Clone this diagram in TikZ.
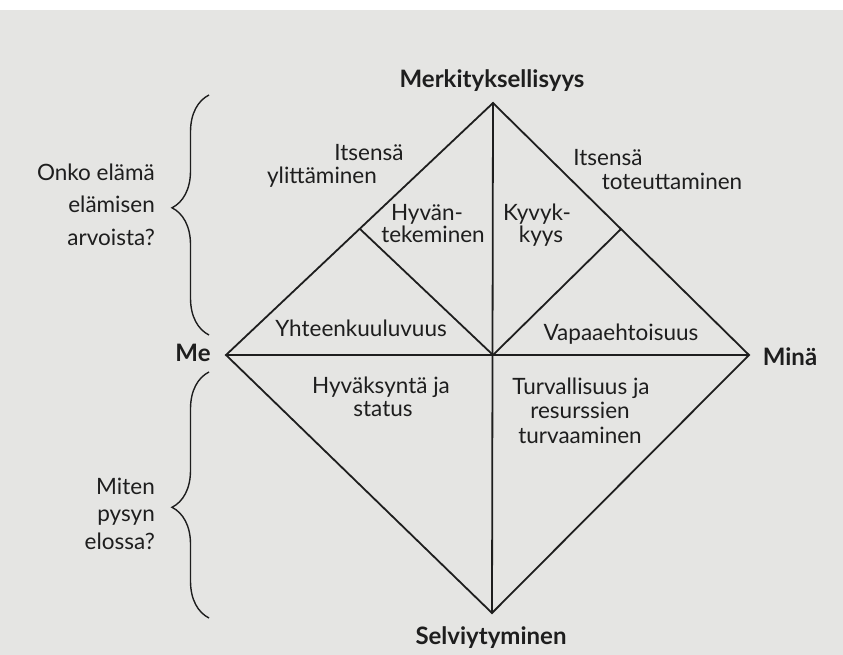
\documentclass[tikz,border=0pt]{standalone}
\usepackage{fontspec}
\setmainfont{Lato}
\usetikzlibrary{decorations.pathreplacing}
\definecolor{paper}{HTML}{E5E5E3}
\definecolor{ink}{HTML}{1E1E1E}
\begin{document}
\begin{tikzpicture}[x=1pt,y=-1pt,
  lab/.style={font=\fontsize{22.5}{24}\selectfont, text=ink, inner sep=0pt, anchor=base},
  labr/.style={lab, anchor=base east},
  head/.style={font=\bfseries\fontsize{24}{26}\selectfont, text=ink, inner sep=0pt, anchor=base},
  edge/.style={draw=ink, line width=1.8pt, line join=miter},
  bracestyle/.style={draw=ink, line width=1.4pt, decorate, decoration={brace, amplitude=37pt, aspect=#1}}
]
\useasboundingbox (0,0) rectangle (843,655);
\fill[paper] (0,0) rectangle (843,655);
\fill[white] (0,0) rectangle (843,10);

% diamond corners
\coordinate (T) at (493,103);
\coordinate (L) at (226,355);
\coordinate (R) at (749,355);
\coordinate (B) at (492,613);
\coordinate (C) at (493,355);
\coordinate (ML) at (360,229);
\coordinate (MR) at (621,229);

\draw[edge] (T) -- (R) -- (B) -- (L) -- cycle;
\draw[edge] (T) -- (B);
\draw[edge] (L) -- (R);
\draw[edge] (ML) -- (C);
\draw[edge] (MR) -- (C);

% vertex labels
\node[head] (merk) at (492,88) {Merkityksellisyys};
\node[head] (me) at (193,361) {Me};
\node[head] (mina) at (790,365) {Minä};
\node[head] (selv) at (491,644) {Selviytyminen};

% region labels
\node[lab] (its1a) at (369,161) {Itsensä};
\node[lab] (its1b) at (322,184) {ylittäminen};
\node[lab] (its2a) at (608,166) {Itsensä};
\node[lab] (its2b) at (672,190) {toteuttaminen};
\node[lab] (hyva) at (427,220) {Hyvän-};
\node[lab] (hyvb) at (433,242) {tekeminen};
\node[lab] (kyva) at (537,220) {Kyvyk-};
\node[lab] (kyvb) at (541,242) {kyys};
\node[lab] (yht) at (361,336) {Yhteenkuuluvuus};
\node[lab] (vap) at (621,340) {Vapaaehtoisuus};
\node[lab] (hyvka) at (381,393) {Hyväksyntä ja};
\node[lab] (hyvkb) at (383,416) {status};
\node[lab] (turva) at (581,394) {Turvallisuus ja};
\node[lab] (turvb) at (580,418) {resurssien};
\node[lab] (turvc) at (580,443) {turvaaminen};

% left questions
\node[labr] (q1a) at (155,181) {Onko elämä};
\node[labr] (q1b) at (155,213) {elämisen};
\node[labr] (q1c) at (155,245) {arvoista?};
\node[labr] (q2a) at (155,494) {Miten};
\node[labr] (q2b) at (155,521) {pysyn};
\node[labr] (q2c) at (155,549) {elossa?};

% braces
\coordinate (b1s) at (209,335);
\coordinate (b1e) at (209,95);
\coordinate (b2s) at (209,618);
\coordinate (b2e) at (209,372);
\draw[bracestyle=0.53] (b1s) -- (b1e);
\draw[bracestyle=0.45] (b2s) -- (b2e);
\end{tikzpicture}
\end{document}
